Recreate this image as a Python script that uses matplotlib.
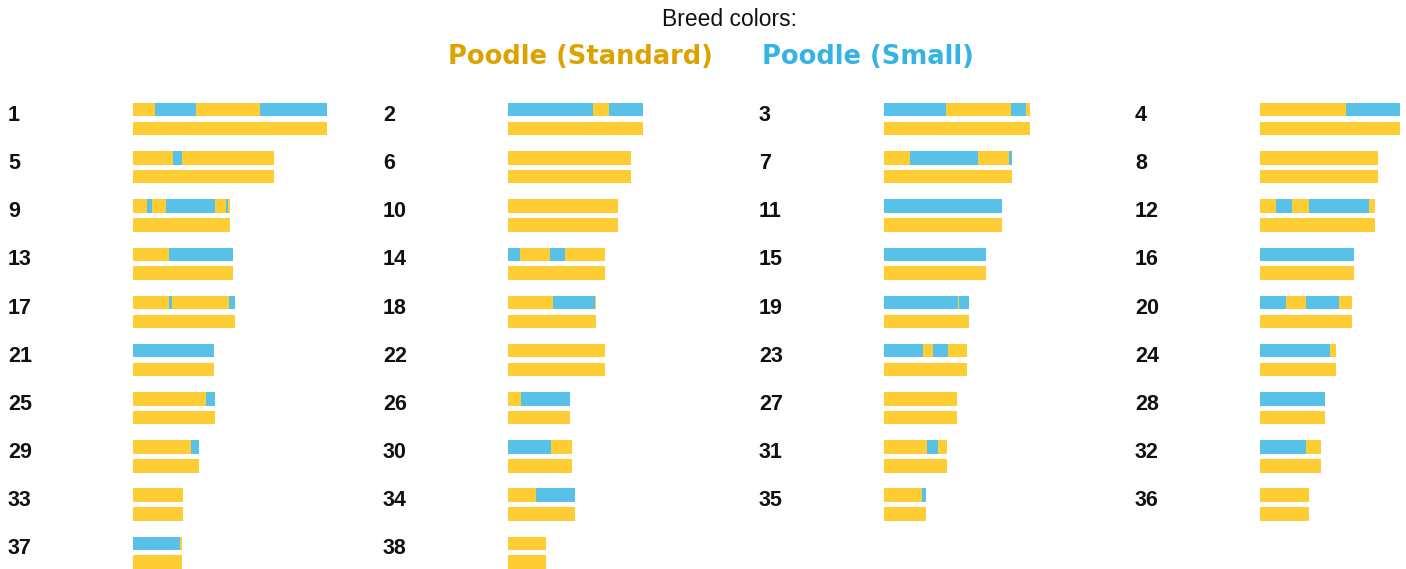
import matplotlib.pyplot as plt

# chromosome lengths (Mb), chr1..chr38
chrom_len = [122.7, 85.4, 91.9, 88.3, 88.9, 77.6, 80.9, 74.3, 61.1, 69.3,
             74.4, 72.5, 63.2, 61.0, 64.2, 59.6, 64.3, 55.8, 53.7, 58.1,
             50.9, 61.4, 52.3, 47.7, 51.6, 39.0, 45.9, 41.2, 41.8, 40.2,
             39.8, 38.8, 31.4, 42.1, 26.5, 30.8, 30.9, 23.9]

# first haplotype: breakpoints (Mb) between alternating ancestry blocks
hap1_breaks = [
    [13.9, 39.7, 80.1], [53.6, 63.7], [39.1, 80.1, 89.6], [54.3],
    [25.2, 30.9], [], [16.4, 59.3, 78.9], [],
    [8.8, 12.0, 20.8, 51.7, 58.7, 59.9], [], [], [10.1, 20.2, 30.9, 68.8],
    [22.7], [7.6, 26.5, 36.0], [], [],
    [22.7, 24.6, 60.6], [28.4, 54.9], [46.7, 47.3], [16.4, 29.0, 49.8],
    [], [], [24.6, 30.9, 40.4], [44.2],
    [46.1], [8.2], [], [],
    [36.6], [27.1], [27.1, 34.1], [29.0],
    [], [17.7], [24.0], [],
    [29.7], [],
]
# breed of the first block on haplotype 1 (S = standard, M = small)
hap1_first = ["S", "M", "M", "S", "S", "S", "S", "S", "S", "S",
              "M", "S", "S", "M", "M", "M", "S", "S", "M", "M",
              "M", "S", "M", "M", "S", "S", "S", "M", "S", "M",
              "S", "M", "S", "S", "S", "S", "M", "S"]
# second haplotype is standard poodle throughout
hap2_first = ["S"] * 38

breed_names = ["Poodle (Standard)", "Poodle (Small)"]
bar_colors = {"S": "#FECC33", "M": "#58C1E8"}
text_colors = {"S": "#DCA300", "M": "#35B4E4"}

W, H = 1406, 569
px_per_mb = 1.585
col_left_px = [8, 383, 759, 1135]   # where chromosome numbers sit
label_pad_px = 125                   # from number to start of bars
ax_w_px = 360

fig = plt.figure(figsize=(W / 100, H / 100), dpi=100)

fig.text(730 / W, 1 - 19 / H, "Breed colors:", ha="center", va="center",
         fontsize=16.5, family="Liberation Sans", color="#111111")
fig.text(580 / W, 1 - 57 / H, breed_names[0], ha="center", va="center",
         fontsize=18.5, fontweight="bold", family="DejaVu Sans", color=text_colors["S"])
fig.text(868 / W, 1 - 57 / H, breed_names[1], ha="center", va="center",
         fontsize=18.5, fontweight="bold", family="DejaVu Sans", color=text_colors["M"])

axes = []
for c in range(4):
    ax = fig.add_axes([col_left_px[c] / W, 0, ax_w_px / W, 474 / H])
    ax.set_xlim(-label_pad_px / px_per_mb, (ax_w_px - label_pad_px) / px_per_mb)
    ax.set_ylim(9.336, -0.5)
    ax.axis("off")
    axes.append(ax)

bar_h = 0.28
off = 0.195
other = {"S": "M", "M": "S"}

for i, length in enumerate(chrom_len):
    ax = axes[i % 4]
    row = i // 4
    ax.text(-label_pad_px / px_per_mb, row - 0.08, str(i + 1), ha="left", va="center",
            fontsize=15.5, fontweight="bold", family="Liberation Sans", color="#111111")

    edges = [0] + hap1_breaks[i] + [length]
    breed = hap1_first[i]
    for a, b in zip(edges[:-1], edges[1:]):
        ax.barh(row - off, b - a, left=a, height=bar_h, color=bar_colors[breed], linewidth=0)
        breed = other[breed]

    ax.barh(row + off, length, left=0, height=bar_h, color=bar_colors[hap2_first[i]], linewidth=0)

fig.savefig("out.png", dpi=100)
